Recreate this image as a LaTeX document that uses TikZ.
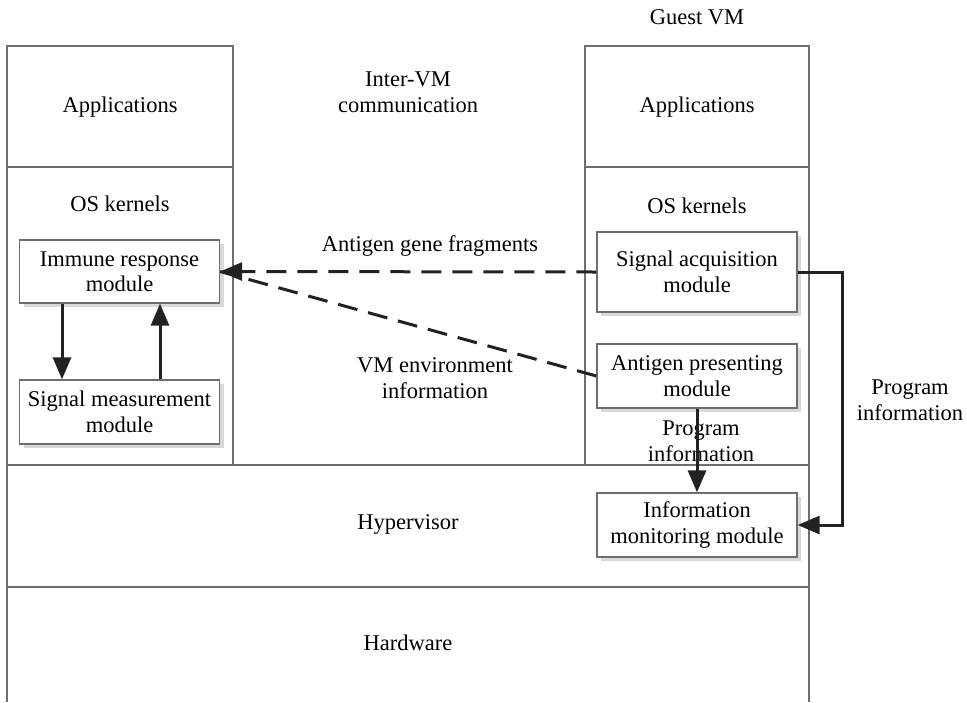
\documentclass[tikz,border=0pt]{standalone}
\usepackage{fontspec}
\setmainfont{Liberation Serif}
\usetikzlibrary{arrows.meta,shadows}
\definecolor{frame}{HTML}{6E6E6E}
\definecolor{ink}{HTML}{222222}
\definecolor{shade}{HTML}{D8D8D8}
\begin{document}
\begin{tikzpicture}[x=1pt,y=-1pt, font=\fontsize{22.5}{25.5}\selectfont,
  frameline/.style={draw=frame, line width=1.3pt},
  module/.style={draw=frame, line width=1.3pt, fill=white, minimum width=200pt,
    align=center, inner sep=0pt,
    drop shadow={shadow xshift=4pt, shadow yshift=-4pt, fill=shade, opacity=1, draw=none}},
  flow/.style={draw=ink, line width=3pt, -{Triangle[length=22pt,width=18pt]}},
  dashline/.style={draw=ink, line width=3pt, dash pattern=on 20pt off 11pt},
  dashflow/.style={dashline, -{Triangle[length=22pt,width=18pt]}},
  lbl/.style={align=center, inner sep=0pt}]
\useasboundingbox (0,0) rectangle (967,702);
% layers
\draw[frameline] (7,46) rectangle (233,167);
\draw[frameline] (7,167) rectangle (233,465);
\draw[frameline] (585,46) rectangle (809,167);
\draw[frameline] (585,167) rectangle (809,465);
\draw[frameline] (7,465) rectangle (809,587);
\draw[frameline] (7,587) -- (7,702) (809,587) -- (809,702);
% labels
\node[lbl] (guest) at (697,17) {Guest VM};
\node[lbl] (inter) at (408,92) {Inter-VM\\communication};
\node[lbl] (appL) at (120,107) {Applications};
\node[lbl] (appR) at (697,107) {Applications};
\node[lbl] (osL) at (120,204) {OS kernels};
\node[lbl] (osR) at (697,206) {OS kernels};
\node[lbl] (hyp) at (408,524) {Hypervisor};
\node[lbl] (hw) at (408,643) {Hardware};
\node[lbl] (agf) at (430,246) {Antigen gene fragments};
\node[lbl] (vme) at (435,378) {VM environment\\information};
\node[lbl] (pi1) at (701,441) {Program\\information};
\node[lbl] (pi2) at (910,400) {Program\\information};
% modules
\node[module, minimum height=63pt] (imm) at (119.5,271.5) {Immune response\\module};
\node[module, minimum height=64pt] (sigm) at (119.5,412) {Signal measurement\\module};
\node[module, minimum height=80pt] (siga) at (697,272) {Signal acquisition\\module};
\node[module, minimum height=64pt] (antp) at (697,376) {Antigen presenting\\module};
\node[module, minimum height=64pt] (infm) at (697,525) {Information\\monitoring module};
% connectors
\draw[dashflow] (siga.west) -- (imm.east);
\draw[dashline] (antp.west) -- (imm.east);
\draw[flow] ([xshift=-57.5pt]imm.south) -- ([xshift=-57.5pt]sigm.north);
\draw[flow] ([xshift=40.5pt]sigm.north) -- ([xshift=40.5pt]imm.south);
\draw[flow] (antp.south) -- (infm.north);
\draw[flow] (siga.east) -- ++(45,0) |- (infm.east);
\end{tikzpicture}
\end{document}
